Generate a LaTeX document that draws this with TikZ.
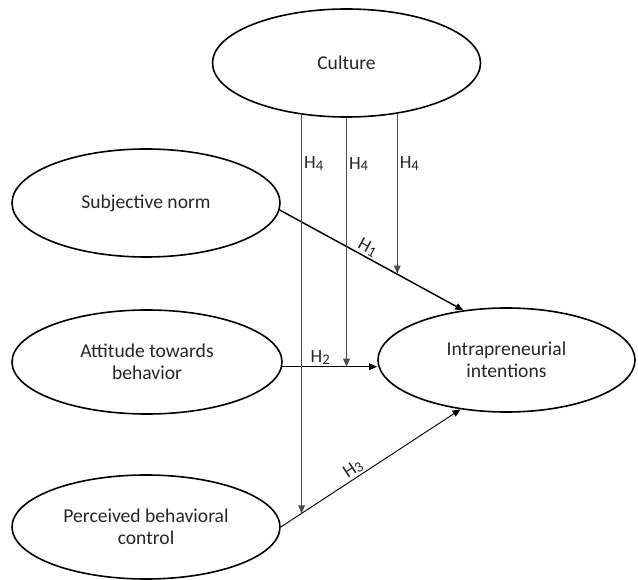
\documentclass[tikz,border=0pt]{standalone}
\usepackage{fontspec}
\setmainfont{Carlito}
\usetikzlibrary{shapes.geometric,arrows.meta}
\newcommand\hlab[1]{H\raisebox{-1.2pt}{\fontsize{11}{11}\selectfont #1}}
\begin{document}
\begin{tikzpicture}[x=0.75pt,y=-0.75pt,
  cons/.style={ellipse,draw,line width=1.2pt,inner sep=0pt,align=center,
    font=\fontsize{14.7}{16.5}\selectfont,text=black!85},
  lab/.style={font=\fontsize{14}{14}\selectfont,inner sep=1.5pt,text=black!85},
  tipped/.style={-{Triangle[length=6pt,width=5pt]}},
  mod/.style={tipped,draw=black!70,line width=0.8pt}]
\useasboundingbox (0,0) rectangle (638,580);

\node[cons,minimum width=201pt,minimum height=81pt] (culture) at (346.5,63) {Culture};
\node[cons,minimum width=201pt,minimum height=81pt] (subj) at (146,203) {Subjective norm};
\node[cons,minimum width=202.5pt,minimum height=78pt] (att) at (147,362) {Attitude towards\\behavior};
\node[cons,minimum width=201pt,minimum height=78pt] (perc) at (146,527) {Perceived behavioral\\control};
\node[cons,minimum width=192.75pt,minimum height=78pt] (intent) at (506.5,360) {Intrapreneurial\\intentions};

% main paths
\draw[tipped,line width=1.1pt] (subj.-3) -- (intent.131)
  node[lab,pos=0.455,sloped,above] {\hlab{1}};
\draw[tipped,line width=0.9pt] (att.-2) -- (att.-2 -| intent.west)
  node[lab,pos=0.4,above] {\hlab{2}};
\draw[tipped,line width=0.7pt] (perc.east) -- (intent.-133.2)
  node[lab,pos=0.43,sloped,above] {\hlab{3}};

% points on the paths hit by the moderating arrows
\path (subj.-3) -- (intent.131) coordinate[pos=0.634] (t1);
\path (att.-2) -- (att.-2 -| intent.west) coordinate[pos=0.68] (t2);
\path (perc.east) -- (intent.-133.2) coordinate[pos=0.116] (t3);

\draw[mod] (culture.-131.2) -- (culture.-131.2 |- t3)
  node[lab,pos=0.122,right] {\hlab{4}};
\draw[mod] (culture.south) -- (culture.south |- t2)
  node[lab,pos=0.185,right] {\hlab{4}};
\draw[mod] (culture.-45.4) -- (culture.-45.4 |- t1)
  node[lab,pos=0.31,right] {\hlab{4}};
\end{tikzpicture}
\end{document}
